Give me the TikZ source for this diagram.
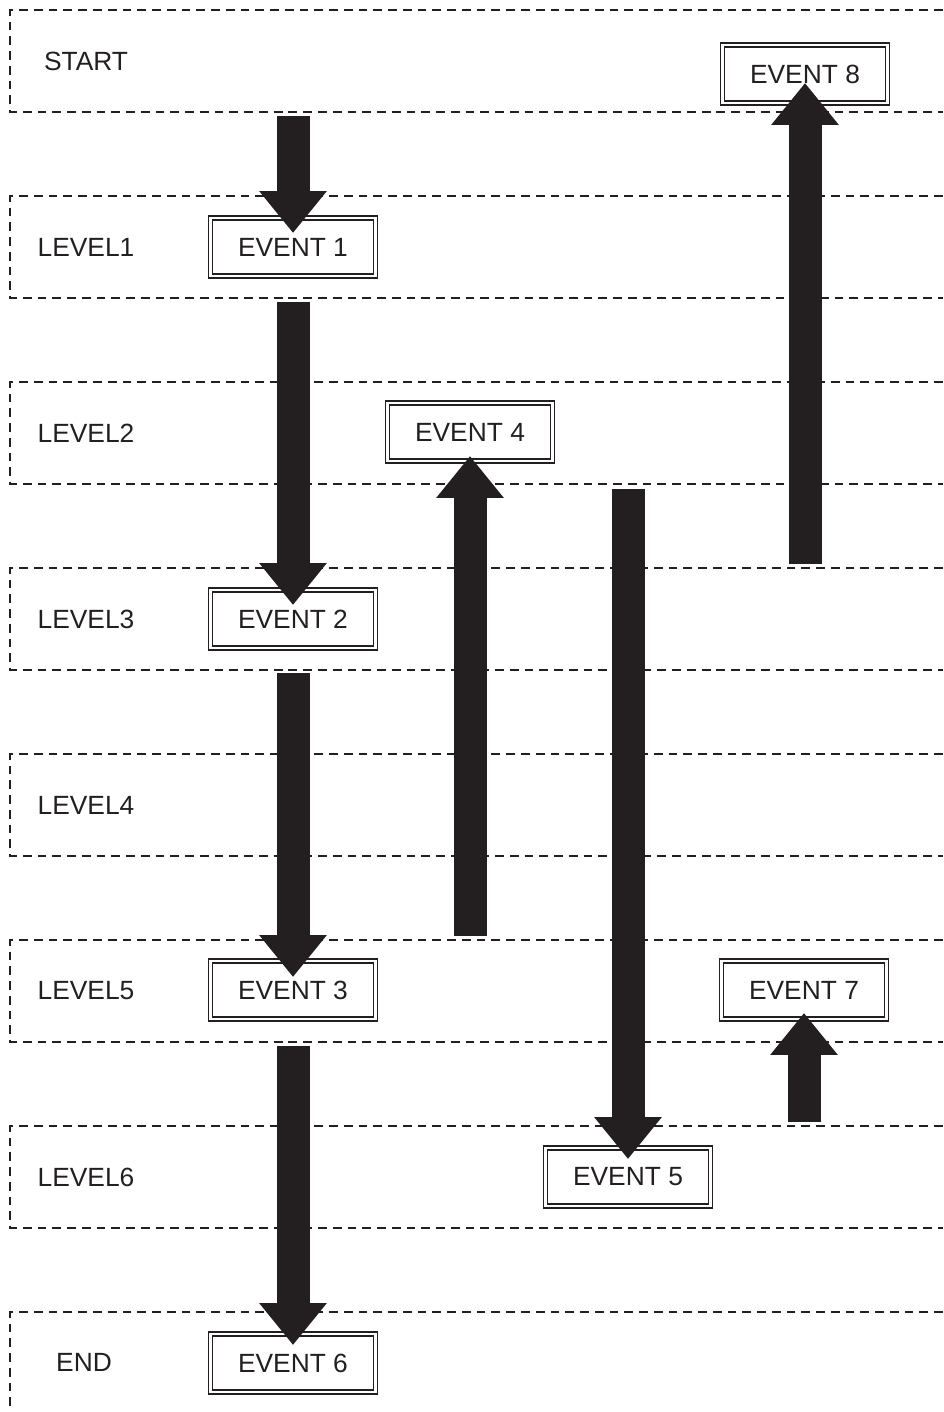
\documentclass[tikz,border=0pt]{standalone}
\usepackage{fontspec}
\setmainfont{Liberation Sans}
\usepackage{xcolor}
\definecolor{flow-ink}{HTML}{231F20}
\usepackage{tikz}
\usetikzlibrary{arrows.meta}

\tikzset{
  lane/.style={draw=flow-ink, line width=0.8pt, dash pattern=on 5pt off 3.4pt},
  lanelabel/.style={text=flow-ink, font=\fontsize{15pt}{18pt}\selectfont},
  event/.style={draw=flow-ink, double=white, double distance=1.3pt, line width=0.8pt,
    fill=white, minimum width=3.3cm, minimum height=1.16cm, inner sep=0pt,
    text=flow-ink, font=\fontsize{15pt}{18pt}\selectfont},
  flow/.style={draw=flow-ink, line width=0.66cm, -{Triangle[width=1.3cm,length=0.84cm]}}
}

\begin{document}
\begin{tikzpicture}[x=0.02cm, y=-0.02cm]

    % Page
    \useasboundingbox (0,0) rectangle (943,1412);

% Lanes
\foreach \name [count=\i from 0] in {START,LEVEL1,LEVEL2,LEVEL3,LEVEL4,LEVEL5,LEVEL6} {
  \draw[lane] (943,10+186*\i) -- (10,10+186*\i) -- (10,112+186*\i) -- (943,112+186*\i);
  \node[lanelabel] (lbl\i) at (86,61+186*\i) {\name};
}
\draw[lane] (943,1312) -- (10,1312) -- (10,1412);
\node[lanelabel] (lbl7) at (84,1362) {END};

% Events
\node[event] (e1) at (293,247) {EVENT 1};
\node[event] (e2) at (293,619) {EVENT 2};
\node[event] (e3) at (293,990) {EVENT 3};
\node[event] (e4) at (470,432) {EVENT 4};
\node[event] (e5) at (628,1177) {EVENT 5};
\node[event] (e6) at (293,1363) {EVENT 6};
\node[event] (e7) at (804,990) {EVENT 7};
\node[event] (e8) at (805,74) {EVENT 8};

% Arrow tails
\coordinate (s1) at (293,116);
\coordinate (s2) at (293,302);
\coordinate (s3) at (293,673);
\coordinate (s6) at (293,1046);
\coordinate (s4) at (470,936);
\coordinate (s5) at (628,489);
\coordinate (s7) at (804,1122);
\coordinate (s8) at (805,564);

% Flow
\draw[flow] (s1) -- ([yshift=0.28cm]e1.center);
\draw[flow] (s2) -- ([yshift=0.28cm]e2.center);
\draw[flow] (s3) -- ([yshift=0.26cm]e3.center);
\draw[flow] (s6) -- ([yshift=0.36cm]e6.center);
\draw[flow] (s4) -- ([yshift=-0.48cm]e4.center);
\draw[flow] (s5) -- ([yshift=0.36cm]e5.center);
\draw[flow] (s7) -- ([yshift=-0.46cm]e7.center);
\draw[flow] (s8) -- ([yshift=-0.18cm]e8.center);

\end{tikzpicture}
\end{document}
